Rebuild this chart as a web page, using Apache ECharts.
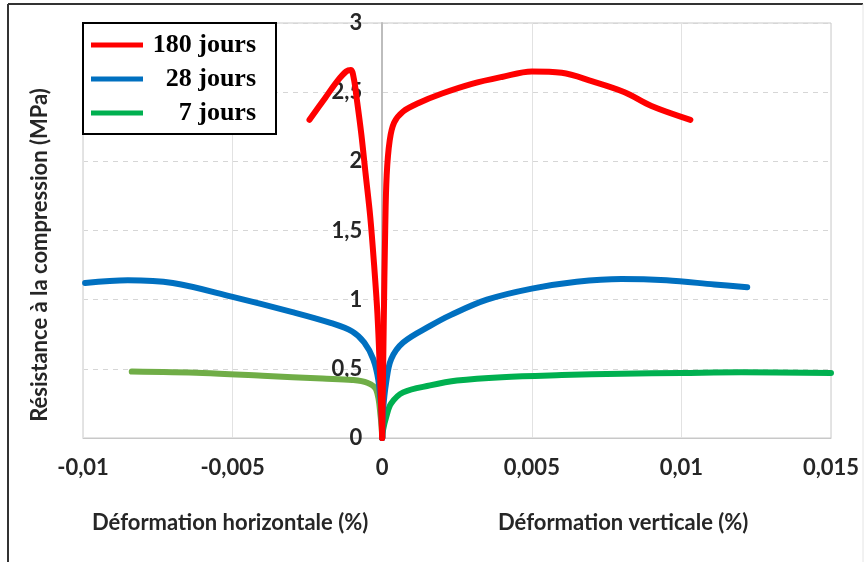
<!DOCTYPE html>
<html>
<head>
<meta charset="utf-8">
<script src="https://cdn.jsdelivr.net/npm/echarts@6/dist/echarts.min.js"></script>
<style>html,body{margin:0;padding:0;background:#fff}#c{width:865px;height:562px}</style>
</head>
<body>
<div id="c"></div>
<script>
// ---- Data (x = déformation %, y = résistance MPa) ----
var xTicks = [-0.01, -0.005, 0, 0.005, 0.01, 0.015];
var yTicks = [0, 0.5, 1, 1.5, 2, 2.5, 3];
var legendNames = ['180 jours', '28 jours', '7 jours'];

// 180 jours
var red180H = [[-0.00243,2.30],[-0.0019,2.46],[-0.0015,2.58],[-0.0012,2.65],[-0.00105,2.66],[-0.00095,2.6],
  [-0.00085,2.45],[-0.0007,2.2],[-0.00055,1.9],[-0.0004,1.6],[-0.00027,1.25],[-0.00016,0.9],[-0.00008,0.5],[0,0]];
var red180V = [[0,0],[0.00005,0.8],[0.0001,1.5],[0.00015,1.9],[0.00025,2.15],[0.0004,2.28],[0.0007,2.36],[0.0012,2.42],
  [0.002,2.49],[0.003,2.56],[0.004,2.61],[0.005,2.65],[0.006,2.64],[0.007,2.58],[0.0081,2.50],[0.009,2.40],[0.0103,2.30]];
// 28 jours
var blue28H = [[-0.00993,1.12],[-0.0085,1.14],[-0.007,1.12],[-0.005,1.02],[-0.003,0.91],[-0.0017,0.83],
  [-0.001,0.77],[-0.0006,0.69],[-0.0003,0.57],[-0.00013,0.42],[-0.00003,0.2],[0,0]];
var blue28V = [[0,0],[0.00003,0.2],[0.00013,0.40],[0.0003,0.57],[0.0007,0.69],[0.0016,0.81],[0.0023,0.89],
  [0.0035,1.0],[0.005,1.08],[0.0065,1.13],[0.008,1.15],[0.0095,1.14],[0.0111,1.11],[0.0122,1.09]];
// 7 jours
var green7H = [[-0.00837,0.48],[-0.006,0.47],[-0.004,0.45],[-0.002,0.43],[-0.001,0.42],[-0.0005,0.40],
  [-0.0002,0.35],[-0.00005,0.15],[0,0]];
var green7V = [[0,0],[0.00003,0.06],[0.00013,0.15],[0.0003,0.25],[0.0007,0.33],[0.0016,0.38],[0.0025,0.415],
  [0.004,0.44],[0.006,0.455],[0.008,0.465],[0.01,0.47],[0.012,0.475],[0.015,0.47]];

var labelFont = 'Lato, "Open Sans", sans-serif';
function comma(v){ return String(+v.toFixed(4)).replace('.', ','); }

var chart = echarts.init(document.getElementById('c'), null, {renderer:'canvas'});
function line(name, data, color, z){
  return {type:'line', name:name, data:data, showSymbol:false, smooth:0.35,
    lineStyle:{color:color, width:6, cap:'round', join:'round'}, itemStyle:{color:color}, z:z, silent:true, animation:false};
}
var gridLeft = 83, gridRight = 34, plotW = 865 - gridLeft - gridRight;
var zeroOffset = -plotW * (0 - xTicks[0]) / (xTicks[xTicks.length-1] - xTicks[0]);
chart.setOption({
  animation:false,
  grid:{left:gridLeft, right:gridRight, top:23, bottom:124, show:true, borderColor:'#c8c8c8', borderWidth:1, backgroundColor:'transparent'},
  xAxis:{type:'value', min:xTicks[0], max:xTicks[xTicks.length-1], interval:0.005,
    axisLine:{show:true, onZero:false, lineStyle:{color:'#c8c8c8', width:1}},
    axisTick:{show:false},
    axisLabel:{margin:19, color:'#262626', fontWeight:'bold', fontSize:22, fontFamily:labelFont, formatter:comma},
    splitLine:{show:true, lineStyle:{color:'#e2e2e2', width:1, type:'solid'}}},
  yAxis:{type:'value', min:yTicks[0], max:yTicks[yTicks.length-1], interval:0.5, offset:zeroOffset,
    axisLine:{show:true, onZero:false, lineStyle:{color:'#bdbdbd', width:2}},
    axisTick:{show:false},
    axisLabel:{margin:20, color:'#262626', fontWeight:'bold', fontSize:22, fontFamily:labelFont, formatter:comma},
    splitLine:{show:true, lineStyle:{color:'#d6d6d6', width:1, type:[5,5]}}},
  legend:{data:legendNames, orient:'vertical', left:83, top:23, width:189,
    backgroundColor:'#fff', borderColor:'#000', borderWidth:2, borderRadius:0,
    padding:[9,20,8,8], itemGap:8, itemWidth:52, itemHeight:5, icon:'rect',
    formatter:function(n){ return '{a|' + n + '}'; },
    textStyle:{rich:{a:{width:108, align:'right', fontFamily:'"Liberation Serif", "Times New Roman", serif',
      fontWeight:'bold', fontSize:26, color:'#000', lineHeight:28}}}},
  graphic:[
    {type:'line', shape:{x1:8, y1:4, x2:863, y2:4}, style:{stroke:'#333', lineWidth:2}, silent:true},
    {type:'line', shape:{x1:8, y1:4, x2:8, y2:562}, style:{stroke:'#333', lineWidth:2}, silent:true},
    {type:'line', shape:{x1:863, y1:4, x2:863, y2:562}, style:{stroke:'#e4e4e4', lineWidth:1}, silent:true},
    {type:'text', left:92, top:512, style:{text:'Déformation horizontale (%)', font:'bold 22px ' + labelFont, fill:'#262626'}},
    {type:'text', left:498, top:512, style:{text:'Déformation verticale (%)', font:'bold 22px ' + labelFont, fill:'#262626'}},
    {type:'text', x:40, y:255, rotation:Math.PI/2,
      style:{text:'Résistance à la compression (MPa)', font:'bold 22px ' + labelFont, fill:'#262626', align:'center', verticalAlign:'middle'}}
  ],
  series:[
    line('7 jours (h)', green7H, '#70AD47', 2),
    line('7 jours', green7V, '#00B050', 2),
    line('28 jours (h)', blue28H, '#0070C0', 3),
    line('28 jours', blue28V, '#0070C0', 3),
    line('180 jours (h)', red180H, '#FF0000', 4),
    line('180 jours', red180V, '#FF0000', 4)
  ]
});
</script>
</body>
</html>
